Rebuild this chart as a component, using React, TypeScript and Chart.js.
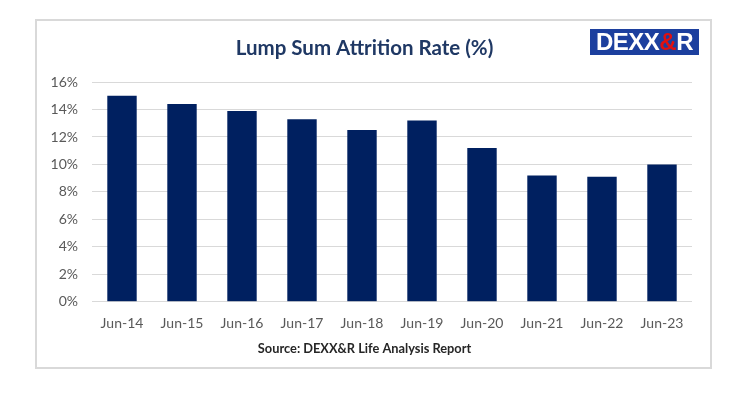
import React, { useEffect, useRef } from "react";
import { Chart, registerables } from "chart.js";

Chart.register(...registerables);

const categories = ["Jun-14", "Jun-15", "Jun-16", "Jun-17", "Jun-18", "Jun-19", "Jun-20", "Jun-21", "Jun-22", "Jun-23"];
const attritionRate = [15.0, 14.4, 13.9, 13.3, 12.5, 13.2, 11.2, 9.2, 9.1, 10.0];
const yTicks = [0, 2, 4, 6, 8, 10, 12, 14, 16];
const chartTitle = "Lump Sum Attrition Rate (%)";
const sourceText = "Source: DEXX&R Life Analysis Report";

export default function App() {
  const canvasRef = useRef<HTMLCanvasElement | null>(null);

  useEffect(() => {
    if (!canvasRef.current) return;
    const chart = new Chart(canvasRef.current, {
      type: "bar",
      data: {
        labels: categories,
        datasets: [
          {
            data: attritionRate,
            backgroundColor: "#002060",
            borderWidth: 0,
            categoryPercentage: 1,
            barPercentage: 0.49,
          },
        ],
      },
      options: {
        animation: false,
        responsive: false,
        maintainAspectRatio: false,
        layout: { padding: { left: 0, right: 17, top: 0, bottom: 0 } },
        plugins: {
          legend: { display: false },
          tooltip: { enabled: false },
          title: {
            display: true,
            text: chartTitle,
            color: "#1f3864",
            font: { family: "Lato", size: 20.5, weight: "bold" },
            padding: { top: 15, bottom: 21.5 },
          },
          subtitle: {
            display: true,
            position: "bottom",
            text: sourceText,
            color: "#262626",
            font: { family: "Lato", size: 12.8, weight: "bold", lineHeight: 1.2 },
            padding: { top: 4, bottom: 9 },
          },
        },
        scales: {
          x: {
            grid: { display: false, drawTicks: false },
            border: { display: false },
            ticks: {
              color: "#595959",
              font: { family: "Lato", size: 14 },
              padding: 13,
              maxRotation: 0,
            },
            afterFit: (scale: any) => {
              scale.height = 36;
            },
          },
          y: {
            min: 0,
            max: 16,
            afterBuildTicks: (scale: any) => {
              scale.ticks = yTicks.map((v) => ({ value: v }));
            },
            grid: { color: "#d9d9d9", drawTicks: false, lineWidth: 1 },
            border: { display: false },
            ticks: {
              color: "#595959",
              font: { family: "Lato", size: 14 },
              padding: 14,
              callback: (v: any) => `${v}%`,
            },
            afterFit: (scale: any) => {
              scale.width = 55;
            },
          },
        },
      },
    });
    return () => chart.destroy();
  }, []);

  return (
    <div style={{ position: "absolute", left: 0, top: 0, width: 752, height: 394, background: "#ffffff" }}>
      <div
        style={{
          position: "absolute",
          left: 35,
          top: 19,
          width: 673,
          height: 346,
          border: "2px solid #d9d9d9",
          background: "#ffffff",
        }}
      />
      <canvas
        ref={canvasRef}
        width={672}
        height={345}
        style={{ position: "absolute", left: 37, top: 21, width: 672, height: 345 }}
      />
      <div
        style={{
          position: "absolute",
          left: 590,
          top: 29,
          width: 109,
          height: 26,
          background: "#1c3f9e",
          display: "flex",
          alignItems: "center",
          justifyContent: "center",
          fontFamily: "'Liberation Sans', Arial, sans-serif",
          fontWeight: 900,
          fontSize: 24,
          letterSpacing: -0.5,
          lineHeight: "26px",
        }}
      >
        <span style={{ color: "#ffffff" }}>DEXX</span>
        <span style={{ color: "#e01010" }}>&amp;</span>
        <span style={{ color: "#ffffff" }}>R</span>
      </div>
    </div>
  );
}
